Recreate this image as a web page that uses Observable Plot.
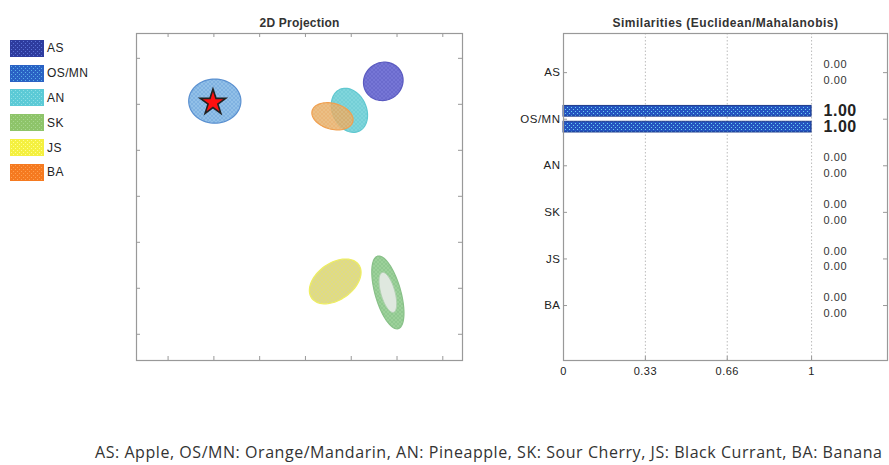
<!DOCTYPE html>
<html><head><meta charset="utf-8">
<script src="https://cdn.jsdelivr.net/npm/d3@7"></script>
<script src="https://cdn.jsdelivr.net/npm/@observablehq/plot@0.6"></script>
<style>
body{margin:0;background:#fff;}
#root{position:relative;width:889px;height:465px;overflow:hidden;font-family:"Liberation Sans",Arial,sans-serif;}
.panel{position:absolute;top:0;}
#legend{position:absolute;left:10px;top:36px;}
.item{display:flex;align-items:center;height:24.8px;font-size:12px;letter-spacing:0.4px;color:#222;}
.item svg{margin-right:3px;}
#caption{position:absolute;left:95px;top:441px;white-space:nowrap;font-family:"Open Sans",sans-serif;font-size:16px;letter-spacing:0.55px;color:#333;}
#right svg text{letter-spacing:0.5px;}
#left svg text{letter-spacing:0.2px;}
</style></head>
<body>
<svg width="0" height="0" style="position:absolute"><defs id="pdefs"></defs></svg>
<div id="root">
  <div id="legend"></div>
  <div id="left" class="panel" style="left:100px"></div>
  <div id="right" class="panel" style="left:480px"></div>
  <div id="caption"></div>
</div>
<script>
// ---- data ----
const groups = ["AS", "OS/MN", "AN", "SK", "JS", "BA"];
const groupNames = ["Apple", "Orange/Mandarin", "Pineapple", "Sour Cherry", "Black Currant", "Banana"];
// 2D projection: ellipse centre, semi-axes, rotation (deg)
const ellipseCx = [1.70, -1.98, 0.96, 1.80, 0.65, 0.59];
const ellipseCy = [2.50, 2.07, 1.87, -2.09, -1.85, 1.74];
const ellipseA = [0.44, 0.57, 0.50, 0.82, 0.63, 0.46];
const ellipseB = [0.41, 0.48, 0.37, 0.28, 0.40, 0.28];
const ellipseAngle = [30, 0, 115, 106, 35, -15];
const sampleX = [-2.02];
const sampleY = [2.04];
const projTicks = [-3, -2, -1, 0, 1, 2, 3];
// similarities
const euclidean = [0, 1, 0, 0, 0, 0];
const mahalanobis = [0, 1, 0, 0, 0, 0];
const simTicks = [0, 0.33, 0.66, 1];
const simTickLabels = ["0", "0.33", "0.66", "1"];

// ---- styles ----
const legendBase = ["#2e3c9e", "#2a62c4", "#5ccad6", "#8ec46a", "#f4f040", "#f57a20"];
const legendDot  = ["#5a72d6", "#5ab0e8", "#8fe0e6", "#a8d890", "#ffff90", "#ffa050"];
const ellBase = ["#7676d6", "#92c0e8", "#80d6dc", "#90c890", "#dcd890", "#e8b470"];
const ellDot  = ["#4a4ab0", "#4a86cc", "#4fb8c4", "#c0ecb8", "#f4f040", "#e08a30"];
const ellStroke = ["#5a5ac0", "#5a90d0", "#60c8d0", "#88c088", "#eeee60", "#f0a050"];

const defs = document.getElementById("pdefs");
function pattern(id, base, dot) {
  defs.insertAdjacentHTML("beforeend",
    `<pattern id="${id}" width="4" height="4" patternUnits="userSpaceOnUse">
      <rect width="4" height="4" fill="${base}"/>
      <rect x="1" y="1" width="1" height="1" fill="${dot}"/>
      <rect x="3" y="3" width="1" height="1" fill="${dot}"/>
    </pattern>`);
}
groups.forEach((g, i) => {
  pattern("lg" + i, legendBase[i], legendDot[i]);
  pattern("el" + i, ellBase[i], ellDot[i]);
});
pattern("bar", "#2554c0", "#6ad0f0");

// ---- legend ----
const legend = document.getElementById("legend");
groups.forEach((g, i) => {
  legend.insertAdjacentHTML("beforeend",
    `<div class="item"><svg width="34" height="17"><rect x="0.5" y="0.5" width="33" height="16" fill="url(#lg${i})" stroke="${legendBase[i]}"/></svg><span>${g}</span></div>`);
});

// ---- left: 2D projection ----
function ellipsePoints(i, scale = 1) {
  const th = ellipseAngle[i] * Math.PI / 180;
  const a = ellipseA[i] * scale, b = ellipseB[i] * scale;
  return d3.range(0, 361, 5).map(t => {
    const r = t * Math.PI / 180;
    return {
      x: ellipseCx[i] + a * Math.cos(th) * Math.cos(r) - b * Math.sin(th) * Math.sin(r),
      y: ellipseCy[i] + a * Math.sin(th) * Math.cos(r) + b * Math.cos(th) * Math.sin(r)
    };
  });
}
const order = [0, 1, 2, 5, 3, 4];
const LH = 327, LW = 326;
const ellMarks = [];
order.forEach(i => {
  ellMarks.push(Plot.line(ellipsePoints(i), {x: "x", y: "y", fill: `url(#el${i})`, stroke: ellStroke[i], strokeWidth: 1.2, fillOpacity: i === 5 ? 0.85 : 1}));
  if (groups[i] === "SK") {
    ellMarks.push(Plot.line(ellipsePoints(i, 0.55), {x: "x", y: "y", fill: "#dfe8df", stroke: "#b0d0b0", strokeWidth: 1}));
  }
});
const left = Plot.plot({
  width: 380, height: 380,
  marginLeft: 36, marginRight: 18, marginTop: 33, marginBottom: 20,
  x: {domain: [-3.69, 3.43], axis: null},
  y: {domain: [-3.57, 3.54], axis: null},
  style: {fontFamily: "Liberation Sans, Arial, sans-serif", background: "white"},
  marks: [
    Plot.ruleX(projTicks, {x: d => d, insetTop: LH - 4, stroke: "#999"}),
    Plot.ruleX(projTicks, {x: d => d, insetBottom: LH - 4, stroke: "#999"}),
    Plot.ruleY(projTicks, {y: d => d, insetRight: LW - 4, stroke: "#999"}),
    Plot.ruleY(projTicks, {y: d => d, insetLeft: LW - 4, stroke: "#999"}),
    ...ellMarks,
    Plot.dot(sampleX.map((x, k) => ({x, y: sampleY[k]})), {x: "x", y: "y", symbol: "star", r: 8, fill: "#ff1010", stroke: "#222", strokeWidth: 1.6}),
    Plot.frame({stroke: "#999", strokeWidth: 1.2}),
    Plot.text(["2D Projection"], {frameAnchor: "top", dy: -15, fontSize: 12, fontWeight: "bold", fill: "#333"})
  ]
});
document.getElementById("left").appendChild(left);

// ---- right: similarities ----
const bars = [];
groups.forEach((g, i) => {
  bars.push({pos: i + 1, off: -0.17, value: euclidean[i]});
  bars.push({pos: i + 1, off: 0.17, value: mahalanobis[i]});
});
const RH = 327, RW = 324;
const topSim = simTicks[simTicks.length - 1];
const right = Plot.plot({
  width: 409, height: 395,
  marginLeft: 83, marginRight: 2, marginTop: 33, marginBottom: 35,
  x: {domain: [0, 1.306], label: null},
  y: {domain: [0.16, 7.18], reverse: true, label: null},
  style: {fontFamily: "Liberation Sans, Arial, sans-serif", background: "white"},
  marks: [
    Plot.ruleX(simTicks.slice(1), {x: d => d, stroke: "#bbb", strokeDasharray: "1.5,2"}),
    Plot.ruleX(simTicks, {x: d => d, insetTop: RH - 4, stroke: "#999"}),
    Plot.ruleY(groups.map((g, i) => i + 1), {y: d => d, insetRight: RW - 4, stroke: "#999"}),
    Plot.ruleY(groups.map((g, i) => i + 1), {y: d => d, insetLeft: RW - 4, stroke: "#999"}),
    Plot.rectX(bars.filter(d => d.value > 0), {x1: 0, x2: "value", y1: d => d.pos + d.off - 0.115, y2: d => d.pos + d.off + 0.115, fill: "url(#bar)", stroke: "#1c3a8a", strokeWidth: 1}),
    Plot.text(bars.filter(d => d.value < 0.5), {x: () => topSim, y: d => d.pos + d.off, text: d => d.value.toFixed(2), textAnchor: "start", dx: 12, fontSize: 11, fill: "#333"}),
    Plot.text(bars.filter(d => d.value >= 0.5), {x: () => topSim, y: d => d.pos + d.off, text: d => d.value.toFixed(2), textAnchor: "start", dx: 12, fontSize: 16, fontWeight: "bold", fill: "#222"}),
    Plot.axisY(groups.map((g, i) => i + 1), {tickFormat: d => groups[d - 1], tickSize: 0, tickPadding: 3, fontSize: 11.5, fill: "#222", label: null}),
    Plot.axisX(simTicks, {tickFormat: d => simTickLabels[simTicks.indexOf(d)], tickSize: 0, tickPadding: 7, fontSize: 11, fill: "#222", label: null}),
    Plot.frame({stroke: "#999", strokeWidth: 1.2}),
    Plot.text(["Similarities (Euclidean/Mahalanobis)"], {frameAnchor: "top", dy: -15, fontSize: 12, fontWeight: "bold", fill: "#333"})
  ]
});
document.getElementById("right").appendChild(right);

document.getElementById("caption").textContent = groups.map((g, i) => `${g}: ${groupNames[i]}`).join(", ");
</script>
</body></html>
